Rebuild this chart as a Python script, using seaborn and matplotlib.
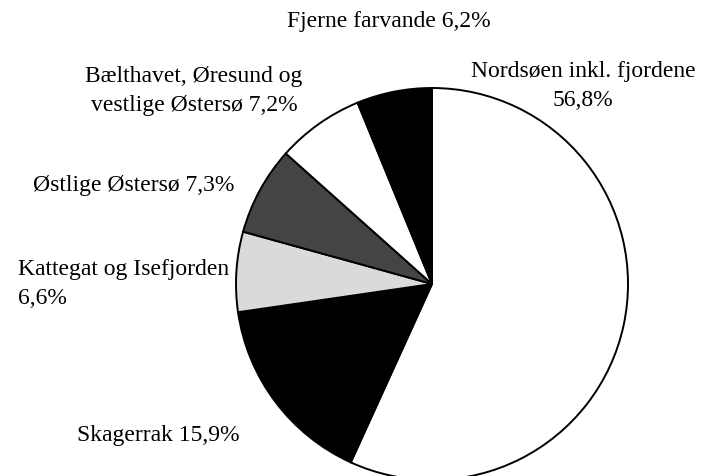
import matplotlib
matplotlib.use("Agg")
import matplotlib.pyplot as plt
import seaborn as sns

# values (clockwise from 12 o'clock)
areas = ["Nordsøen inkl. fjordene", "Skagerrak", "Kattegat og Isefjorden",
         "Østlige Østersø", "Bælthavet, Øresund og vestlige Østersø", "Fjerne farvande"]
shares = [56.8, 15.9, 6.6, 7.3, 7.2, 6.2]
slice_colors = ["#ffffff", "#000000", "#dadada", "#444444", "#ffffff", "#000000"]

label_texts = [
    "Nordsøen inkl. fjordene\n56,8%",
    "Skagerrak 15,9%",
    "Kattegat og Isefjorden\n6,6%",
    "Østlige Østersø 7,3%",
    "Bælthavet, Øresund og\nvestlige Østersø 7,2%",
    "Fjerne farvande 6,2%",
]

sns.set_theme(style="white")
plt.rcParams["font.family"] = ["Liberation Serif", "DejaVu Serif"]

W, H = 716, 477
fig = plt.figure(figsize=(W / 100, H / 100), dpi=100)
ax = fig.add_axes([0, 0, 1, 1])

# pie laid out in pixel units so it lines up with the reference
ax.pie(shares, colors=slice_colors, startangle=90, counterclock=False,
       center=(432, H - 285), radius=196,
       wedgeprops=dict(edgecolor="black", linewidth=1.4))
ax.set_xlim(0, W)
ax.set_ylim(0, H)
ax.set_aspect("equal")
ax.axis("off")

fs = 17
# label anchors (pixels from top-left), alignment
label_pos = [
    (583, 86, "center"),
    (77, 436, "left"),
    (18, 284, "left"),
    (33, 185, "left"),
    (194, 91, "center"),
    (389, 22, "center"),
]
for txt, (x, y, ha) in zip(label_texts, label_pos):
    ax.text(x, H - y, txt, ha=ha, va="center", fontsize=fs,
            multialignment=ha, linespacing=1.5, color="black")

fig.savefig("out.png", dpi=100, facecolor="white")
